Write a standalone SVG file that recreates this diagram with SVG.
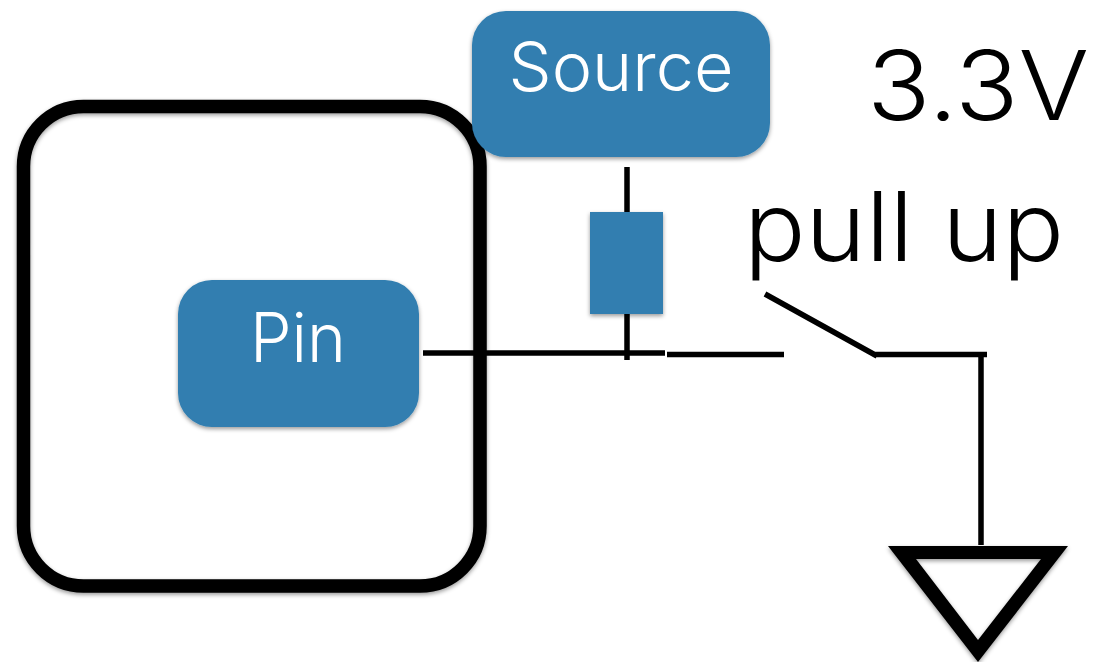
<svg xmlns="http://www.w3.org/2000/svg" width="1094" height="662" viewBox="0 0 1094 662">
<defs><filter id="s" x="-10%" y="-10%" width="120%" height="120%"><feDropShadow dx="0" dy="2" stdDeviation="2" flood-color="#000" flood-opacity="0.4"/></filter></defs>
<style>
.n{fill:#317eb0;filter:url(#s)}
.t{font-family:"Inter","Liberation Sans",sans-serif;font-weight:300}
.w{fill:#fff;text-anchor:middle;font-size:68px}
.k{fill:#000;font-size:96px}
.l{fill:none;stroke:#000;stroke-width:5.5}
</style>
<rect width="1094" height="662" fill="#fff"/>
<g id="chip"><rect x="23.500" y="106.500" width="456.500" height="479.500" rx="60" fill="none" stroke="#000" stroke-width="13.500" filter="url(#s)"/></g>
<g id="connectors">
<path class="l" d="M627 167V212M627 314V360M423 353H665M667 354.500H784M765 294L877 356M873 354.500H987M981 354V545"/>
</g>
<g id="source"><rect class="n" x="472" y="11" width="298" height="146" rx="34"/><text class="t w" x="621" y="91" textLength="225" lengthAdjust="spacingAndGlyphs">Source</text></g>
<g id="pin"><rect class="n" x="178" y="280" width="241" height="147" rx="34"/><text class="t w" x="298" y="362" textLength="96" lengthAdjust="spacingAndGlyphs">Pin</text></g>
<g id="resistor"><rect class="n" x="590" y="212" width="73" height="102"/></g>
<g id="ground"><path d="M888 546H1068L978 662ZM916 559L978 640L1041 559Z" fill="#000" fill-rule="evenodd" filter="url(#s)"/></g>
<g id="label-33v"><text class="t k" x="867" y="120" textLength="222" lengthAdjust="spacingAndGlyphs">3.3V</text></g>
<g id="label-pullup"><text class="t k" x="744" y="261" textLength="320" lengthAdjust="spacingAndGlyphs">pull up</text></g>
</svg>
